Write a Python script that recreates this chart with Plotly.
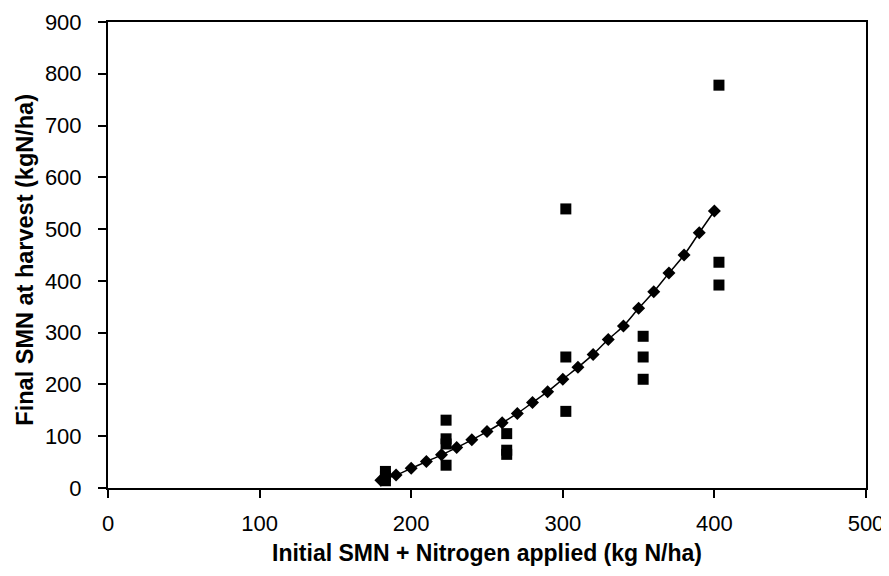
import plotly.graph_objects as go

# measured points
obs_x = [183, 183, 183, 223, 223, 223, 223, 263, 263, 263,
         302, 302, 302, 353, 353, 353, 403, 403, 403]
obs_y = [32, 22, 14, 131, 95, 85, 44, 105, 73, 65,
         539, 253, 148, 293, 253, 210, 778, 436, 392]

# fitted curve
fit_x = [180, 190, 200, 210, 220, 230, 240, 250, 260, 270, 280, 290,
         300, 310, 320, 330, 340, 350, 360, 370, 380, 390, 400]
fit_y = [15, 25, 38, 51, 64, 78, 93, 109, 126, 144, 165, 186,
         210, 233, 258, 287, 313, 347, 379, 415, 450, 493, 535]

FONT = 'Liberation Sans, Arial'

fig = go.Figure()

fig.add_trace(go.Scatter(
    x=obs_x, y=obs_y,
    mode='markers',
    marker=dict(symbol='square', size=11, color='black'),
    name='Measured',
))

fig.add_trace(go.Scatter(
    x=fit_x, y=fit_y,
    mode='lines+markers',
    line=dict(color='black', width=1.5, shape='spline'),
    marker=dict(symbol='diamond', size=10, color='black'),
    name='Fitted',
))

axis_style = dict(
    showline=True,
    linecolor='black',
    linewidth=2,
    mirror=True,
    ticks='outside',
    ticklen=8,
    tickcolor='black',
    tickwidth=1.5,
    showgrid=False,
    zeroline=False,
    automargin=False,
    tickfont=dict(family=FONT, size=22, color='black'),
)

# page body has an 8px margin, so the figure is sized/shifted to compensate
fig.update_layout(
    width=881,
    height=568,
    margin=dict(l=100, r=23, t=14, b=88),
    plot_bgcolor='white',
    paper_bgcolor='white',
    showlegend=False,
    font=dict(family=FONT, color='black'),
    xaxis=dict(
        range=[0, 500],
        tickvals=[0, 100, 200, 300, 400, 500],
        ticklabelstandoff=7,
        **axis_style,
    ),
    yaxis=dict(
        range=[0, 900],
        tickvals=[0, 100, 200, 300, 400, 500, 600, 700, 800, 900],
        ticklabelstandoff=12,
        **axis_style,
    ),
    annotations=[
        dict(
            text='<b>Initial SMN + Nitrogen applied (kg N/ha)</b>',
            xref='paper', yref='paper', x=0.5, y=0,
            xanchor='center', yanchor='middle', yshift=-65,
            showarrow=False,
            font=dict(family=FONT, size=23, color='black'),
        ),
        dict(
            text='<b>Final SMN at harvest (kgN/ha)</b>',
            xref='paper', yref='paper', x=0, y=0.49,
            xanchor='center', yanchor='middle', xshift=-83,
            textangle=-90,
            showarrow=False,
            font=dict(family=FONT, size=23.5, color='black'),
        ),
    ],
)

fig.write_html("out.html")
